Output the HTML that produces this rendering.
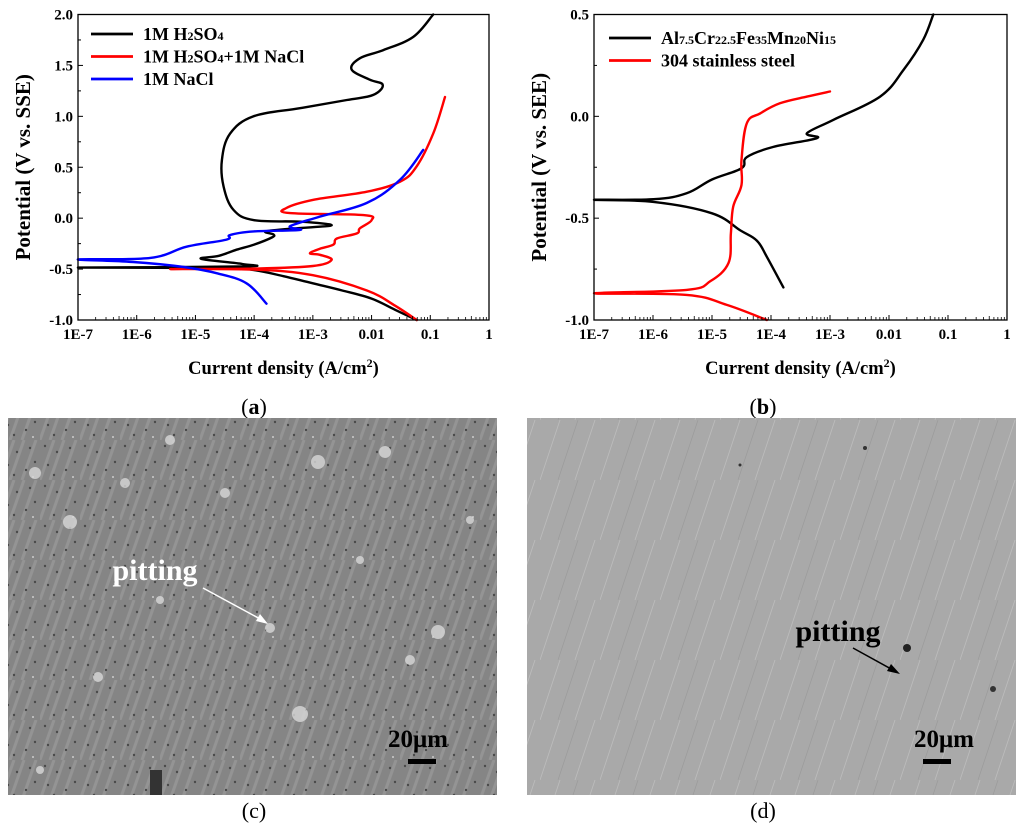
<!DOCTYPE html>
<html><head><meta charset="utf-8"><style>
html,body{margin:0;padding:0;background:#fff;}
body{width:1024px;height:824px;overflow:hidden;position:relative;font-family:"Liberation Serif",serif;}
svg text{font-family:"Liberation Serif",serif;}
</style></head><body>
<svg id="fig" width="1024" height="824" viewBox="0 0 1024 824" xmlns="http://www.w3.org/2000/svg">
<defs>
<pattern id="micro" width="40" height="40" patternUnits="userSpaceOnUse">
<rect width="40" height="40" fill="#858585"/>
<path d="M0 40 L14 0 M10 40 L24 0 M22 40 L36 0" stroke="#9a9a9a" stroke-width="3" opacity="0.7"/>
<circle cx="5" cy="6" r="1.2" fill="#4a4a4a"/><circle cx="17" cy="12" r="1.2" fill="#4a4a4a"/>
<circle cx="30" cy="8" r="1.2" fill="#4a4a4a"/><circle cx="8" cy="25" r="1.2" fill="#4a4a4a"/>
<circle cx="26" cy="30" r="1.2" fill="#4a4a4a"/><circle cx="35" cy="22" r="1.2" fill="#4a4a4a"/>
<circle cx="14" cy="35" r="1.2" fill="#4a4a4a"/><circle cx="33" cy="37" r="1" fill="#ccc"/>
</pattern>
<pattern id="steel" width="60" height="60" patternUnits="userSpaceOnUse">
<rect width="60" height="60" fill="#a9a9a9"/>
<path d="M0 60 L20 0 M35 60 L55 0" stroke="#bdbdbd" stroke-width="0.8"/>
<path d="M18 60 L38 0" stroke="#999" stroke-width="0.6"/>
</pattern>
</defs>
<g id="chartA"></g>
<g id="chartB"></g>
<text x="254" y="414" font-size="22" text-anchor="middle">(<tspan font-weight="bold">a</tspan>)</text>
<text x="763" y="414" font-size="22" text-anchor="middle">(<tspan font-weight="bold">b</tspan>)</text>
<g>
<rect x="8" y="418" width="489" height="377" fill="url(#micro)"/>
<g fill="#d8d8d8" opacity="0.8">
<circle cx="35" cy="473" r="6"/><circle cx="70" cy="522" r="7"/><circle cx="125" cy="483" r="5"/><circle cx="170" cy="440" r="5"/>
<circle cx="225" cy="493" r="5"/><circle cx="318" cy="462" r="7"/><circle cx="385" cy="452" r="6"/><circle cx="270" cy="628" r="5"/>
<circle cx="438" cy="632" r="7"/><circle cx="300" cy="714" r="8"/><circle cx="410" cy="660" r="5"/><circle cx="98" cy="677" r="5"/>
<circle cx="160" cy="600" r="4"/><circle cx="470" cy="520" r="4"/><circle cx="360" cy="560" r="4"/><circle cx="40" cy="770" r="4"/>
</g>
<text x="155" y="580" font-size="30" font-weight="bold" fill="#fff" text-anchor="middle">pitting</text>
<line x1="203" y1="588" x2="262" y2="620" stroke="#fff" stroke-width="1.5"/>
<polygon points="268,624 256,621 260,614" fill="#fff"/>
<text x="418" y="747" font-size="25" font-weight="bold" fill="#000" text-anchor="middle">20μm</text>
<rect x="408" y="759" width="28" height="5" fill="#000"/>
<rect x="150" y="770" width="12" height="25" fill="#333"/>
</g>
<g>
<rect x="527" y="418" width="489" height="377" fill="url(#steel)"/>
<circle cx="907" cy="648" r="4" fill="#222"/><circle cx="993" cy="689" r="3" fill="#333"/><circle cx="865" cy="448" r="2" fill="#333"/><circle cx="740" cy="465" r="1.5" fill="#333"/>
<text x="838" y="641" font-size="30" font-weight="bold" fill="#000" text-anchor="middle">pitting</text>
<line x1="853" y1="648" x2="893" y2="670" stroke="#000" stroke-width="1.5"/>
<polygon points="900,674 887,671 891,664" fill="#000"/>
<text x="944" y="747" font-size="25" font-weight="bold" fill="#000" text-anchor="middle">20μm</text>
<rect x="923" y="759" width="28" height="5" fill="#000"/>
</g>
<text x="254" y="818" font-size="22" text-anchor="middle">(c)</text>
<text x="763" y="818" font-size="22" text-anchor="middle">(d)</text>
</svg>
<script>
// Chart (a) data: [log10 current density, potential V]
const a_h2so4 = [[-1.23,-1.0],[-1.6,-0.9],[-2,-0.79],[-2.5,-0.71],[-3,-0.64],[-3.5,-0.57],[-4,-0.51],[-4.5,-0.49],[-7,-0.485],[-4.2,-0.475],[-4.2,-0.45],[-4.9,-0.40],[-4.6,-0.37],[-4.3,-0.31],[-4.0,-0.26],[-3.7,-0.19],[-3.67,-0.16],[-3.8,-0.13],[-3.3,-0.1],[-2.68,-0.07],[-3.2,-0.035],[-4.0,-0.02],[-4.35,0.08],[-4.52,0.31],[-4.55,0.57],[-4.41,0.83],[-4.01,1.0],[-3.22,1.08],[-2.42,1.16],[-1.97,1.21],[-1.81,1.31],[-2.03,1.36],[-2.34,1.46],[-2.2,1.57],[-1.8,1.65],[-1.29,1.78],[-0.95,2.0]];
const a_mixed = [[-1.23,-1.0],[-1.6,-0.86],[-2.08,-0.71],[-3,-0.56],[-4,-0.505],[-5.43,-0.5],[-4,-0.495],[-3,-0.47],[-2.68,-0.41],[-2.88,-0.36],[-3.05,-0.345],[-2.88,-0.30],[-2.65,-0.26],[-2.59,-0.20],[-2.25,-0.15],[-2.2,-0.10],[-2.0,-0.02],[-2.14,0.03],[-3.39,0.05],[-3.45,0.10],[-2.99,0.18],[-2.08,0.26],[-1.51,0.36],[-1.23,0.51],[-0.95,0.83],[-0.75,1.19]];
const a_nacl = [[-3.79,-0.84],[-4.13,-0.64],[-4.64,-0.54],[-5.2,-0.48],[-6.06,-0.43],[-7,-0.405],[-5.77,-0.39],[-5.15,-0.28],[-4.47,-0.21],[-4.41,-0.165],[-4.01,-0.13],[-3.22,-0.115],[-3.39,-0.08],[-2.88,0.015],[-2.08,0.15],[-1.51,0.38],[-1.12,0.67]];
const a_names = ["1M H\u2082SO\u2084","1M H\u2082SO\u2084+1M NaCl","1M NaCl"];
const a_yTicks = [-1.0,-0.5,0.0,0.5,1.0,1.5,2.0];
// Chart (b) data
const b_alloy = [[-3.79,-0.84],[-4.07,-0.69],[-4.24,-0.61],[-4.52,-0.56],[-5.0,-0.476],[-5.99,-0.42],[-7,-0.41],[-5.99,-0.407],[-5.43,-0.378],[-5.0,-0.31],[-4.5,-0.255],[-4.41,-0.2],[-3.96,-0.15],[-3.22,-0.107],[-3.39,-0.083],[-2.94,-0.017],[-2.15,0.097],[-1.75,0.23],[-1.42,0.376],[-1.25,0.5]];
const b_ss = [[-4.07,-1.0],[-4.75,-0.926],[-5.43,-0.877],[-7,-0.869],[-5.43,-0.852],[-5.03,-0.81],[-4.72,-0.72],[-4.68,-0.574],[-4.64,-0.443],[-4.5,-0.337],[-4.5,-0.214],[-4.41,-0.034],[-4.18,0.015],[-3.85,0.064],[-3.39,0.097],[-3.0,0.122]];
const b_names = ["Al7.5Cr22.5Fe35Mn20Ni15","304 stainless steel"];
const b_yTicks = [-1.0,-0.5,0.0,0.5];
const xTickLabels = ["1E-7","1E-6","1E-5","1E-4","1E-3","0.01","0.1","1"];

const NS="http://www.w3.org/2000/svg";
function mk(parent,tag,attrs){const e=document.createElementNS(NS,tag);for(const k in attrs)e.setAttribute(k,attrs[k]);parent.appendChild(e);return e;}
function smoothPath(pts){
  let d='M'+pts[0][0].toFixed(1)+','+pts[0][1].toFixed(1);
  for(let i=0;i<pts.length-1;i++){
    const p0=pts[Math.max(0,i-1)],p1=pts[i],p2=pts[i+1],p3=pts[Math.min(pts.length-1,i+2)];
    const t=0.18;
    const c1=[p1[0]+(p2[0]-p0[0])*t,p1[1]+(p2[1]-p0[1])*t];
    const c2=[p2[0]-(p3[0]-p1[0])*t,p2[1]-(p3[1]-p1[1])*t];
    d+=` C${c1[0].toFixed(1)},${c1[1].toFixed(1)} ${c2[0].toFixed(1)},${c2[1].toFixed(1)} ${p2[0].toFixed(1)},${p2[1].toFixed(1)}`;
  }
  return d;
}

function drawChart(g,box,yMin,yMax,yTicks,yTitle,series,colors,legendNames,legendPos,subLegend){
  const xs=v=>box.x0+(v+7)/7*(box.x1-box.x0);
  const ys=v=>box.y1-(v-yMin)/(yMax-yMin)*(box.y1-box.y0);
  series.forEach((s,i)=>{
    const p=mk(g,'path',{d:smoothPath(s.map(d=>[xs(d[0]),ys(d[1])])),fill:'none',stroke:colors[i],'stroke-width':2.4,'stroke-linejoin':'round','stroke-linecap':'round'});
    
    
  });
  const fr=mk(g,'rect',{x:box.x0,y:box.y0,width:box.x1-box.x0,height:box.y1-box.y0,fill:'none',stroke:'#000','stroke-width':1.3});
  
  
  for(let d=-7;d<=0;d++){
    mk(g,'line',{x1:xs(d),x2:xs(d),y1:box.y1,y2:box.y1-5,stroke:'#000','stroke-width':1});
    if(d<0)for(let m=2;m<=9;m++){const v=d+Math.log10(m);mk(g,'line',{x1:xs(v),x2:xs(v),y1:box.y1,y2:box.y1-(m==5?4:3),stroke:'#000','stroke-width':0.8});}
    const t=mk(g,'text',{x:xs(d),y:box.y1+19,'font-size':15,'font-weight':'bold','text-anchor':'middle'});t.textContent=xTickLabels[d+7];
    
    
  }
  const step=yTicks[1]-yTicks[0];
  yTicks.forEach((v,i)=>{
    mk(g,'line',{x1:box.x0,x2:box.x0+5,y1:ys(v),y2:ys(v),stroke:'#000','stroke-width':1});
    if(i<yTicks.length-1)mk(g,'line',{x1:box.x0,x2:box.x0+3,y1:ys(v+step/2),y2:ys(v+step/2),stroke:'#000','stroke-width':1});
    const t=mk(g,'text',{x:box.x0-5,y:ys(v)+5,'font-size':15,'font-weight':'bold','text-anchor':'end'});t.textContent=v.toFixed(1);
    
    
  });
  const xt=mk(g,'text',{x:(box.x0+box.x1)/2,y:374,'font-size':18.5,'font-weight':'bold','text-anchor':'middle'});
  xt.innerHTML='Current density (A/cm<tspan dy="-7" font-size="12">2</tspan><tspan dy="7">)</tspan>';
  
  
  const yt=mk(g,'text',{x:0,y:0,'font-size':21,'font-weight':'bold','text-anchor':'middle',transform:`translate(${box.x0-48},${(box.y0+box.y1)/2}) rotate(-90)`});
  yt.textContent=yTitle;
  
  
  legendNames.forEach((n,i)=>{
    const ly=legendPos.y+i*22.5;
    const le=mk(g,'g',{});
    
    
    mk(le,'line',{x1:legendPos.x,x2:legendPos.x+42,y1:ly,y2:ly,stroke:colors[i],'stroke-width':2.8});
    const t=mk(le,'text',{x:legendPos.x+52,y:ly+6,'font-size':18,'font-weight':'bold'});
    t.innerHTML=subLegend[i];
  });
}
const sub=s=>`<tspan font-size="12">${s}</tspan>`;
drawChart(document.getElementById('chartA'),{x0:78,x1:489,y0:14.5,y1:320},-1,2,a_yTicks,'Potential (V vs. SSE)',[a_h2so4,a_mixed,a_nacl],['#000','#f00','#00f'],a_names,{x:91,y:34},
  ['1M H'+sub('2')+'SO'+sub('4'),'1M H'+sub('2')+'SO'+sub('4')+'+1M NaCl','1M NaCl']);
drawChart(document.getElementById('chartB'),{x0:594,x1:1007,y0:14.5,y1:320},-1,0.5,b_yTicks,'Potential (V vs. SEE)',[b_alloy,b_ss],['#000','#f00'],b_names,{x:609,y:38},
  ['Al'+sub('7.5')+'Cr'+sub('22.5')+'Fe'+sub('35')+'Mn'+sub('20')+'Ni'+sub('15'),'304 stainless steel']);
</script>
</body></html>
